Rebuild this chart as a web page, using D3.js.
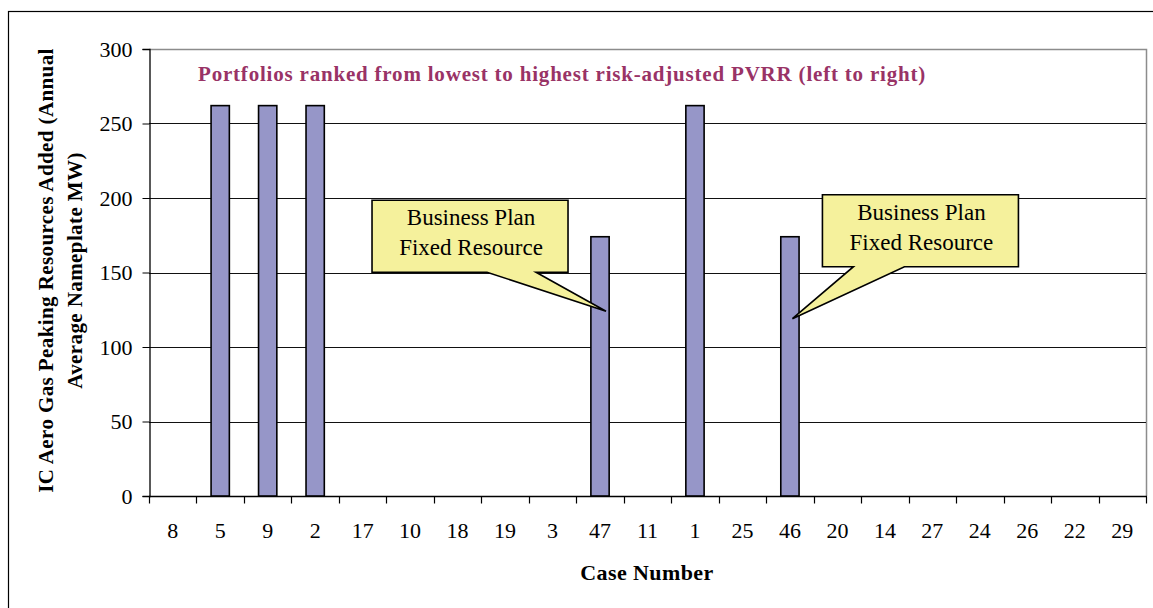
<!DOCTYPE html>
<html>
<head>
<meta charset="utf-8">
<script src="https://cdn.jsdelivr.net/npm/d3@7/dist/d3.min.js"></script>
<style>
  html, body { margin: 0; padding: 0; background: #fff; }
  svg { display: block; }
  text { font-family: "Liberation Serif", "Times New Roman", serif; }
</style>
</head>
<body>
<svg id="chart" width="1153" height="608"></svg>
<script>
// Case numbers in ranked order (lowest to highest risk-adjusted PVRR)
const cases = ["8", "5", "9", "2", "17", "10", "18", "19", "3", "47", "11", "1", "25", "46", "20", "14", "27", "24", "26", "22", "29"];
// IC aero gas peaking resources added (annual average nameplate MW)
const peakingMW = [0, 262, 262, 262, 0, 0, 0, 0, 0, 174, 0, 262, 0, 174, 0, 0, 0, 0, 0, 0, 0];
const yTicks = [0, 50, 100, 150, 200, 250, 300];
// Callouts: case they point at, value where the pointer tip lands
const calloutCases = ["47", "46"];
const calloutTipValues = [124, 119];
const calloutLines = ["Business Plan", "Fixed Resource"];

const svg = d3.select("#chart");
const margin = { left: 149, top: 49, right: 1146, bottom: 496 };

const x = d3.scaleBand().domain(cases).range([margin.left, margin.right]).padding(0);
const xBar = d3.scaleBand().domain(cases).range([margin.left, margin.right])
  .paddingInner(0.615).paddingOuter(0.3075);
const y = d3.scaleLinear().domain([0, 300]).range([margin.bottom, margin.top]);

// outer chart frame
svg.append("rect")
  .attr("x", 8.5).attr("y", 11.5).attr("width", 1170).attr("height", 620)
  .attr("fill", "#fff").attr("stroke", "#000").attr("stroke-width", 1.2);

// plot area border (top/right, grey)
svg.append("path")
  .attr("d", `M${margin.left},${margin.top + 0.5}H${margin.right + 0.5}V${margin.bottom}`)
  .attr("fill", "none").attr("stroke", "#8c8c8c").attr("stroke-width", 1.5);

// horizontal gridlines
svg.append("g").selectAll("line")
  .data(yTicks.filter(v => v > 0 && v < 300))
  .join("line")
  .attr("x1", margin.left).attr("x2", margin.right)
  .attr("y1", d => Math.round(y(d)) + 0.5).attr("y2", d => Math.round(y(d)) + 0.5)
  .attr("stroke", "#111").attr("stroke-width", 1);

// y axis
const yAxis = d3.axisLeft(y).tickValues(yTicks).tickSize(7).tickPadding(10).tickFormat(d3.format("d"));
const gy = svg.append("g").attr("transform", `translate(${margin.left + 0.5},0)`).call(yAxis);
gy.select(".domain").attr("stroke", "#000").attr("stroke-width", 1.3);
gy.selectAll(".tick line").attr("stroke", "#000");
gy.selectAll(".tick text")
  .attr("font-family", "Liberation Serif").attr("font-size", 22).attr("fill", "#000")
  .attr("dy", "0.34em");

// x axis: ticks at category boundaries, labels centred in each band
const gx = svg.append("g").attr("transform", `translate(0,${margin.bottom + 0.5})`);
gx.append("line").attr("x1", margin.left).attr("x2", margin.right + 1)
  .attr("stroke", "#000").attr("stroke-width", 1.5);
const boundaries = cases.map(c => x(c)).concat([margin.right]);
gx.selectAll("line.tick").data(boundaries).join("line").attr("class", "tick")
  .attr("x1", d => Math.round(d) + 0.5).attr("x2", d => Math.round(d) + 0.5)
  .attr("y1", 0).attr("y2", 7).attr("stroke", "#000").attr("stroke-width", 1.2);
gx.selectAll("text").data(cases).join("text")
  .attr("x", d => x(d) + x.bandwidth() / 2).attr("y", 41)
  .attr("text-anchor", "middle").attr("font-size", 22).attr("fill", "#000")
  .text(d => d);

// bars
svg.append("g").selectAll("rect")
  .data(cases.map((c, i) => ({ c, v: peakingMW[i] })).filter(d => d.v > 0))
  .join("rect")
  .attr("x", d => xBar(d.c)).attr("width", xBar.bandwidth())
  .attr("y", d => y(d.v)).attr("height", d => y(0) - y(d.v))
  .attr("fill", "#9696c8").attr("stroke", "#000").attr("stroke-width", 1.6);

// callouts
const boxW = 196, boxH = 72;
const calloutSpecs = [
  { dx: -234, dy: -111, tail: [115, 164] },   // box offset from tip, tail base x within box
  { dx: 30, dy: -124, tail: [31, 82] }
];
calloutCases.forEach((c, i) => {
  const tipX = x(c) + x.bandwidth() / 2 + (i === 0 ? 6 : 2.5);
  const tipY = y(calloutTipValues[i]);
  const s = calloutSpecs[i];
  const bx = tipX + s.dx, by = tipY + s.dy;
  const g = svg.append("g");
  const path = `M${bx},${by}H${bx + boxW}V${by + boxH}H${bx + s.tail[1]}L${tipX},${tipY}L${bx + s.tail[0]},${by + boxH}H${bx}Z`;
  g.append("path").attr("d", path)
    .attr("fill", "#f5f19c").attr("stroke", "#000").attr("stroke-width", 1.6)
    .attr("stroke-linejoin", "miter");
  g.selectAll("text").data(calloutLines).join("text")
    .attr("x", bx + boxW / 2 + 1).attr("y", (d, j) => by + 25 + j * 30)
    .attr("text-anchor", "middle").attr("font-size", 23).attr("fill", "#000")
    .text(d => d);
});

// subtitle inside the plot
svg.append("text")
  .attr("x", 198).attr("y", 81)
  .attr("font-size", 21).attr("font-weight", "bold").attr("fill", "#993366")
  .attr("letter-spacing", 0.8)
  .text("Portfolios ranked from lowest to highest risk-adjusted PVRR (left to right)");

// axis titles
svg.append("text")
  .attr("x", 647).attr("y", 580).attr("text-anchor", "middle")
  .attr("font-size", 22).attr("font-weight", "bold").attr("fill", "#000")
  .attr("letter-spacing", 0.4)
  .text("Case Number");

const yTitle = svg.append("g").attr("transform", `translate(53,${(margin.top + margin.bottom) / 2 - 2}) rotate(-90)`);
yTitle.selectAll("text")
  .data(["IC Aero Gas Peaking Resources Added (Annual", "Average Nameplate MW)"])
  .join("text")
  .attr("x", 0).attr("y", (d, i) => i * 29).attr("text-anchor", "middle")
  .attr("font-size", 21).attr("font-weight", "bold").attr("fill", "#000")
  .attr("letter-spacing", 0.4)
  .text(d => d);
</script>
</body>
</html>
